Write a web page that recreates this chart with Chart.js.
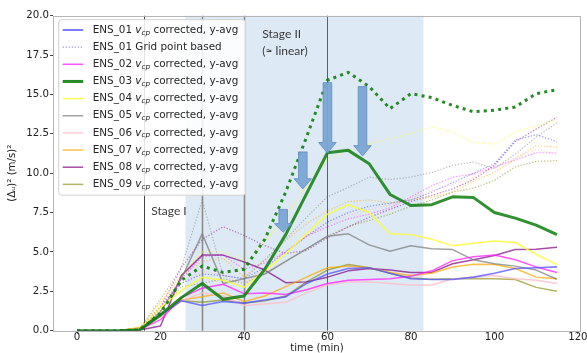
<!DOCTYPE html>
<html><head><meta charset="utf-8">
<script src="https://cdn.jsdelivr.net/npm/chart.js@4.4.1/dist/chart.umd.min.js"></script>
<style>html,body{margin:0;padding:0;background:#fff}#wrap{width:587px;height:353px}</style>
</head><body><div id="wrap"><canvas id="c" width="587" height="353"></canvas></div>
<script>
// ---------- data ----------
const timeMin = [0,5,10,15,20,25,30,35,40,45,50,55,60,65,70,75,80,85,90,95,100,105,110,115];
const xTickValues = [0,20,40,60,80,100,120];
const yTickValues = [0,2.5,5,7.5,10,12.5,15,17.5,20];

// v_cp corrected, y-avg (solid)
const ens01 = [0,0,0,0.05,1.0,1.9,1.6,1.85,1.75,1.95,2.15,3.0,3.6,3.95,4.0,3.65,3.3,3.25,3.25,3.4,3.65,3.95,4.0,4.05];
const ens02 = [0,0,0,0.05,0.7,2.1,2.7,2.95,2.35,2.4,2.3,2.6,3.0,3.2,3.25,3.3,3.45,3.8,4.45,4.7,4.8,4.5,4.05,3.7];
const ens03 = [0,0,0,0.05,1.0,2.1,3.0,2.0,2.2,3.9,6.1,8.7,11.3,11.45,10.6,8.65,7.95,8.0,8.5,8.45,7.5,7.15,6.7,6.1];
const ens04 = [0,0,0,0.05,1.5,2.55,3.4,3.2,2.75,3.8,4.9,6.15,7.4,8.0,7.5,6.15,6.1,5.8,5.4,5.55,5.7,5.6,4.85,4.2];
const ens05 = [0,0,0,0.05,1.2,3.3,6.15,3.0,3.3,3.6,4.4,5.2,6.0,6.15,5.45,5.05,5.4,5.2,5.15,4.5,4.25,4.1,3.85,3.27];
const ens06 = [0,0,0,0.05,0.9,1.9,2.4,2.2,1.6,1.7,1.8,2.4,2.9,3.1,3.1,3.0,2.9,2.9,3.3,3.4,3.5,3.3,3.2,3.0];
const ens07 = [0,0,0,0.2,1.0,1.95,2.15,2.4,1.85,2.2,2.8,3.4,4.0,4.1,4.0,3.7,3.5,3.65,4.05,4.22,4.2,3.95,3.4,3.3];
const ens08 = [0,0,0,0.05,0.3,3.5,4.8,4.8,4.37,3.85,3.05,3.1,3.4,3.8,3.95,3.85,3.7,3.7,4.25,4.5,4.78,5.15,5.17,5.3];
const ens09 = [0,0,0,0.05,0.9,1.9,1.8,1.95,1.75,1.9,2.2,3.1,3.85,4.2,4.0,3.65,3.35,3.27,3.3,3.32,3.3,3.25,2.75,2.5];

// grid point based (dotted)
const grid01 = [0,0,0,0.1,1.5,3.0,3.6,3.5,3.3,4.0,5.0,6.0,6.9,7.5,7.9,8.1,8.3,8.8,9.4,10.0,10.6,12.1,12.45,12.0];
const grid02 = [0,0,0,0.1,1.5,3.3,4.7,4.8,3.9,4.3,5.0,6.0,6.6,7.1,7.4,7.8,8.5,9.2,9.75,9.95,10.4,10.85,11.3,11.3];
const grid03 = [0,0,0,0.05,1.1,3.2,4.1,3.7,3.9,5.8,8.8,12.3,15.9,16.4,15.5,14.1,15.05,14.8,14.3,13.9,14.0,14.2,15.05,15.3];
const grid04 = [0,0,0,0.1,1.8,3.5,5.0,5.0,4.4,5.7,7.3,9.2,10.9,11.4,11.85,12.2,12.5,12.95,12.6,11.95,11.85,12.6,13.0,13.4];
const grid05 = [0,0,0,0.1,2.0,4.0,8.3,3.5,3.3,4.5,5.8,7.2,8.5,9.1,9.75,9.6,9.75,10.05,10.5,10.7,10.3,11.2,12.3,13.2];
const grid06 = [0,0,0,0.1,1.6,3.0,3.8,3.5,3.0,4.0,5.0,6.0,6.8,7.3,7.7,8.0,8.4,8.9,9.3,9.7,10.3,11.0,11.5,11.2];
const grid07 = [0,0,0,0.2,1.8,3.5,4.4,4.6,3.4,4.5,5.7,6.8,7.6,8.2,8.3,8.1,8.3,8.5,8.8,9.5,10.06,10.9,11.75,11.65];
const grid08 = [0,0,0,0.1,1.5,4.0,5.8,6.6,6.05,5.4,4.9,5.1,5.9,6.6,7.2,7.7,8.2,8.6,9.0,9.6,10.5,12.0,12.8,13.55];
const grid09 = [0,0,0,0.1,1.3,2.8,3.0,3.3,3.0,3.6,4.4,5.2,6.0,6.6,7.0,7.4,7.9,8.3,8.8,9.05,9.55,10.4,10.75,10.8];

const legendLabels = [
  'ENS_01 v_cp corrected, y-avg','ENS_01 Grid point based','ENS_02 v_cp corrected, y-avg',
  'ENS_03 v_cp corrected, y-avg','ENS_04 v_cp corrected, y-avg','ENS_05 v_cp corrected, y-avg',
  'ENS_06 v_cp corrected, y-avg','ENS_07 v_cp corrected, y-avg','ENS_08 v_cp corrected, y-avg',
  'ENS_09 v_cp corrected, y-avg'];

const shadeSpan = [26, 83];
const markerLines = [16, 30, 40, 60];
const stageTexts = [
  {text:'Stage I', x:17.8, y:7.6},
  {text:'Stage II', x:44.4, y:18.8},
  {text:'(\u2248 linear)', x:44.4, y:17.75}
];
// block arrows: centre time, top, neck (head start), tip (values)
const arrowsData = [
  {x:49.4, top:7.7, neck:6.8, tip:6.25},
  {x:54.1, top:11.35, neck:9.65, tip:9.0},
  {x:60.0, top:15.75, neck:11.95, tip:11.27},
  {x:68.4, top:15.5, neck:11.75, tip:11.1}
];

// ---------- styles ----------
const C = {
  blue:[80,80,255], magenta:[255,30,255], green:[15,125,15], yellow:[255,255,40],
  gray:[128,128,128], pink:[255,190,200], orange:[255,165,0], purple:[128,0,128], olive:[128,128,0]
};
const rgba = (c,a)=>`rgba(${c[0]},${c[1]},${c[2]},${a})`;
const pts = arr => arr.map((v,i)=>({x:timeMin[i], y:v}));

function solid(label, arr, c, w, a, order){
  return {label, data:pts(arr), borderColor:rgba(c,a), borderWidth:w, pointRadius:0,
    borderJoinStyle:'round', tension:0, fill:false, order:order};
}
function dotted(label, arr, c, w, a, dash, order){
  return {label, data:pts(arr), borderColor:rgba(c,a), borderWidth:w, pointRadius:0,
    borderDash:dash, tension:0, fill:false, order:order};
}
const thinDash = [1.3,1.7];
const datasets = [
  dotted('ENS_01 Grid point based', grid01, C.blue, 1.2, 0.55, thinDash, 3),
  dotted('ENS_02 grid', grid02, C.magenta, 1.2, 0.5, thinDash, 3),
  dotted('ENS_04 grid', grid04, C.yellow, 1.2, 0.55, thinDash, 3),
  dotted('ENS_05 grid', grid05, C.gray, 1.2, 0.5, thinDash, 3),
  dotted('ENS_06 grid', grid06, C.pink, 1.2, 0.6, thinDash, 3),
  dotted('ENS_07 grid', grid07, C.orange, 1.2, 0.5, thinDash, 3),
  dotted('ENS_08 grid', grid08, C.purple, 1.2, 0.5, thinDash, 3),
  dotted('ENS_09 grid', grid09, C.olive, 1.2, 0.5, thinDash, 3),
  solid('ENS_01', ens01, C.blue, 1.6, 0.75, 2),
  solid('ENS_02', ens02, C.magenta, 1.5, 0.75, 2),
  solid('ENS_04', ens04, C.yellow, 1.5, 0.8, 2),
  solid('ENS_05', ens05, C.gray, 1.5, 0.75, 2),
  solid('ENS_06', ens06, C.pink, 1.5, 0.8, 2),
  solid('ENS_07', ens07, C.orange, 1.5, 0.7, 2),
  solid('ENS_08', ens08, C.purple, 1.5, 0.7, 2),
  solid('ENS_09', ens09, C.olive, 1.5, 0.6, 2),
  dotted('ENS_03 grid', grid03, C.green, 3, 0.9, [3,4.2], 1),
  solid('ENS_03', ens03, C.green, 3, 0.85, 0)
];
const legendStyles = [
  {c:C.blue,a:0.75,w:2,dash:[]},{c:C.blue,a:0.6,w:1.2,dash:[1.3,1.7]},
  {c:C.magenta,a:0.75,w:1.5,dash:[]},{c:C.green,a:0.9,w:3,dash:[]},
  {c:C.yellow,a:0.8,w:1.5,dash:[]},{c:C.gray,a:0.75,w:1.5,dash:[]},
  {c:C.pink,a:0.8,w:1.5,dash:[]},{c:C.orange,a:0.7,w:1.5,dash:[]},
  {c:C.purple,a:0.7,w:1.5,dash:[]},{c:C.olive,a:0.6,w:1.5,dash:[]}
];

const FONT = '"DejaVu Sans", sans-serif';

const decor = {
  id:'decor',
  beforeDatasetsDraw(chart){
    const {ctx, chartArea:a, scales:{x}} = chart;
    ctx.save();
    const x0 = x.getPixelForValue(shadeSpan[0]), x1 = x.getPixelForValue(shadeSpan[1]);
    ctx.fillStyle = '#dde9f5';
    ctx.fillRect(x0, a.top, x1-x0, a.bottom-a.top);
    const lineStyles = [
      {c:'#444', w:1}, {c:'#8c8c8c', w:1.6}, {c:'#8c8c8c', w:1.6}, {c:'#606060', w:1}
    ];
    markerLines.forEach((t,i)=>{
      const px = Math.round(x.getPixelForValue(t)) + 0.5;
      ctx.strokeStyle = lineStyles[i].c; ctx.lineWidth = lineStyles[i].w;
      ctx.beginPath(); ctx.moveTo(px, a.top); ctx.lineTo(px, a.bottom); ctx.stroke();
    });
    ctx.restore();
  },
  afterDatasetsDraw(chart){
    const {ctx, chartArea:a, scales:{x,y}} = chart;
    ctx.save();
    // arrows
    const shaftHalf = 4.3, headHalf = 8.8;
    arrowsData.forEach(ar=>{
      const cx = x.getPixelForValue(ar.x);
      const yt = y.getPixelForValue(ar.top), yn = y.getPixelForValue(ar.neck), yp = y.getPixelForValue(ar.tip);
      ctx.beginPath();
      ctx.moveTo(cx-shaftHalf, yt); ctx.lineTo(cx+shaftHalf, yt); ctx.lineTo(cx+shaftHalf, yn);
      ctx.lineTo(cx+headHalf, yn); ctx.lineTo(cx, yp); ctx.lineTo(cx-headHalf, yn);
      ctx.lineTo(cx-shaftHalf, yn); ctx.closePath();
      ctx.fillStyle = 'rgba(122,165,212,0.95)'; ctx.fill();
      ctx.strokeStyle = '#5f8cc0'; ctx.lineWidth = 0.8; ctx.stroke();
    });
    // stage texts
    ctx.fillStyle = '#3a3a3a';
    ctx.font = '12px Lato, "Open Sans", sans-serif';
    ctx.textBaseline = 'middle'; ctx.textAlign = 'left';
    stageTexts.forEach(s=>ctx.fillText(s.text, x.getPixelForValue(s.x), y.getPixelForValue(s.y)));
    // legend
    const bx = a.left + 5.7, by = a.top + 4, bw = 187, bh = 175.5, r = 3;
    ctx.beginPath();
    ctx.moveTo(bx+r, by); ctx.lineTo(bx+bw-r, by); ctx.quadraticCurveTo(bx+bw, by, bx+bw, by+r);
    ctx.lineTo(bx+bw, by+bh-r); ctx.quadraticCurveTo(bx+bw, by+bh, bx+bw-r, by+bh);
    ctx.lineTo(bx+r, by+bh); ctx.quadraticCurveTo(bx, by+bh, bx, by+bh-r);
    ctx.lineTo(bx, by+r); ctx.quadraticCurveTo(bx, by, bx+r, by); ctx.closePath();
    ctx.fillStyle = 'rgba(255,255,255,0.85)'; ctx.fill();
    ctx.strokeStyle = '#d0d0d0'; ctx.lineWidth = 1; ctx.stroke();
    const row0 = by + 10.3, dy = 17.15;
    legendLabels.forEach((lab,i)=>{
      const cy = row0 + i*dy, st = legendStyles[i];
      ctx.strokeStyle = rgba(st.c, st.a); ctx.lineWidth = st.w; ctx.setLineDash(st.dash);
      ctx.beginPath(); ctx.moveTo(bx+4, cy); ctx.lineTo(bx+24.5, cy); ctx.stroke();
      ctx.setLineDash([]);
      ctx.fillStyle = '#262626'; ctx.textBaseline = 'middle'; ctx.textAlign = 'left';
      let tx = bx + 34;
      if (lab.includes('v_cp')) {
        const parts = lab.split('v_cp');
        ctx.font = '10.4px ' + FONT; ctx.fillText(parts[0], tx, cy); tx += ctx.measureText(parts[0]).width;
        ctx.font = 'italic 10.4px ' + FONT; ctx.fillText('v', tx, cy); tx += ctx.measureText('v').width;
        ctx.font = 'italic 7.3px ' + FONT; ctx.fillText('cp', tx, cy + 2.7); tx += ctx.measureText('cp').width;
        ctx.font = '10.4px ' + FONT; ctx.fillText(parts[1], tx, cy);
      } else {
        ctx.font = '10.4px ' + FONT; ctx.fillText(lab, tx, cy);
      }
    });
    ctx.restore();
  },
  afterDraw(chart){
    const {ctx, chartArea:a} = chart;
    ctx.save();
    ctx.strokeStyle = '#b5b5b5'; ctx.lineWidth = 1;
    ctx.strokeRect(Math.round(a.left)+0.5, Math.round(a.top)+0.5, Math.round(a.right-a.left)-1, Math.round(a.bottom-a.top));
    ctx.restore();
  }
};

new Chart(document.getElementById('c'), {
  type:'line',
  data:{datasets},
  options:{
    responsive:false, devicePixelRatio:1, animation:false,
    layout:{padding:{top:15.7, right:6, left:0, bottom:0}},
    plugins:{legend:{display:false}, tooltip:{enabled:false}},
    scales:{
      x:{type:'linear', min:-5.75, max:120.75,
        afterBuildTicks:s=>{s.ticks = xTickValues.map(v=>({value:v}));},
        afterFit:s=>{s.height = 22.3;},
        ticks:{font:{family:FONT, size:10.2, lineHeight:1}, color:'#222', padding:-1, maxRotation:0, autoSkip:false},
        grid:{display:true, drawOnChartArea:false, drawTicks:true, tickLength:3, color:'#444'},
        border:{display:false},
        title:{display:true, text:'time (min)', font:{family:FONT, size:10.2, lineHeight:0.9}, color:'#222', padding:{top:0,bottom:0}}
      },
      y:{type:'linear', min:0, max:20,
        afterBuildTicks:s=>{s.ticks = yTickValues.map(v=>({value:v}));},
        afterFit:s=>{s.width = 53;},
        ticks:{font:{family:FONT, size:10.2}, color:'#222', padding:1, callback:v=>v.toFixed(1)},
        grid:{display:true, drawOnChartArea:false, drawTicks:true, tickLength:3, color:'#444'},
        border:{display:false},
        title:{display:true, text:'(\u0394\u1D64)\u00B2 (m/s)\u00B2', font:{family:FONT, size:10.2}, color:'#222', padding:{top:6,bottom:0}}
      }
    }
  },
  plugins:[decor]
});
</script></body></html>
